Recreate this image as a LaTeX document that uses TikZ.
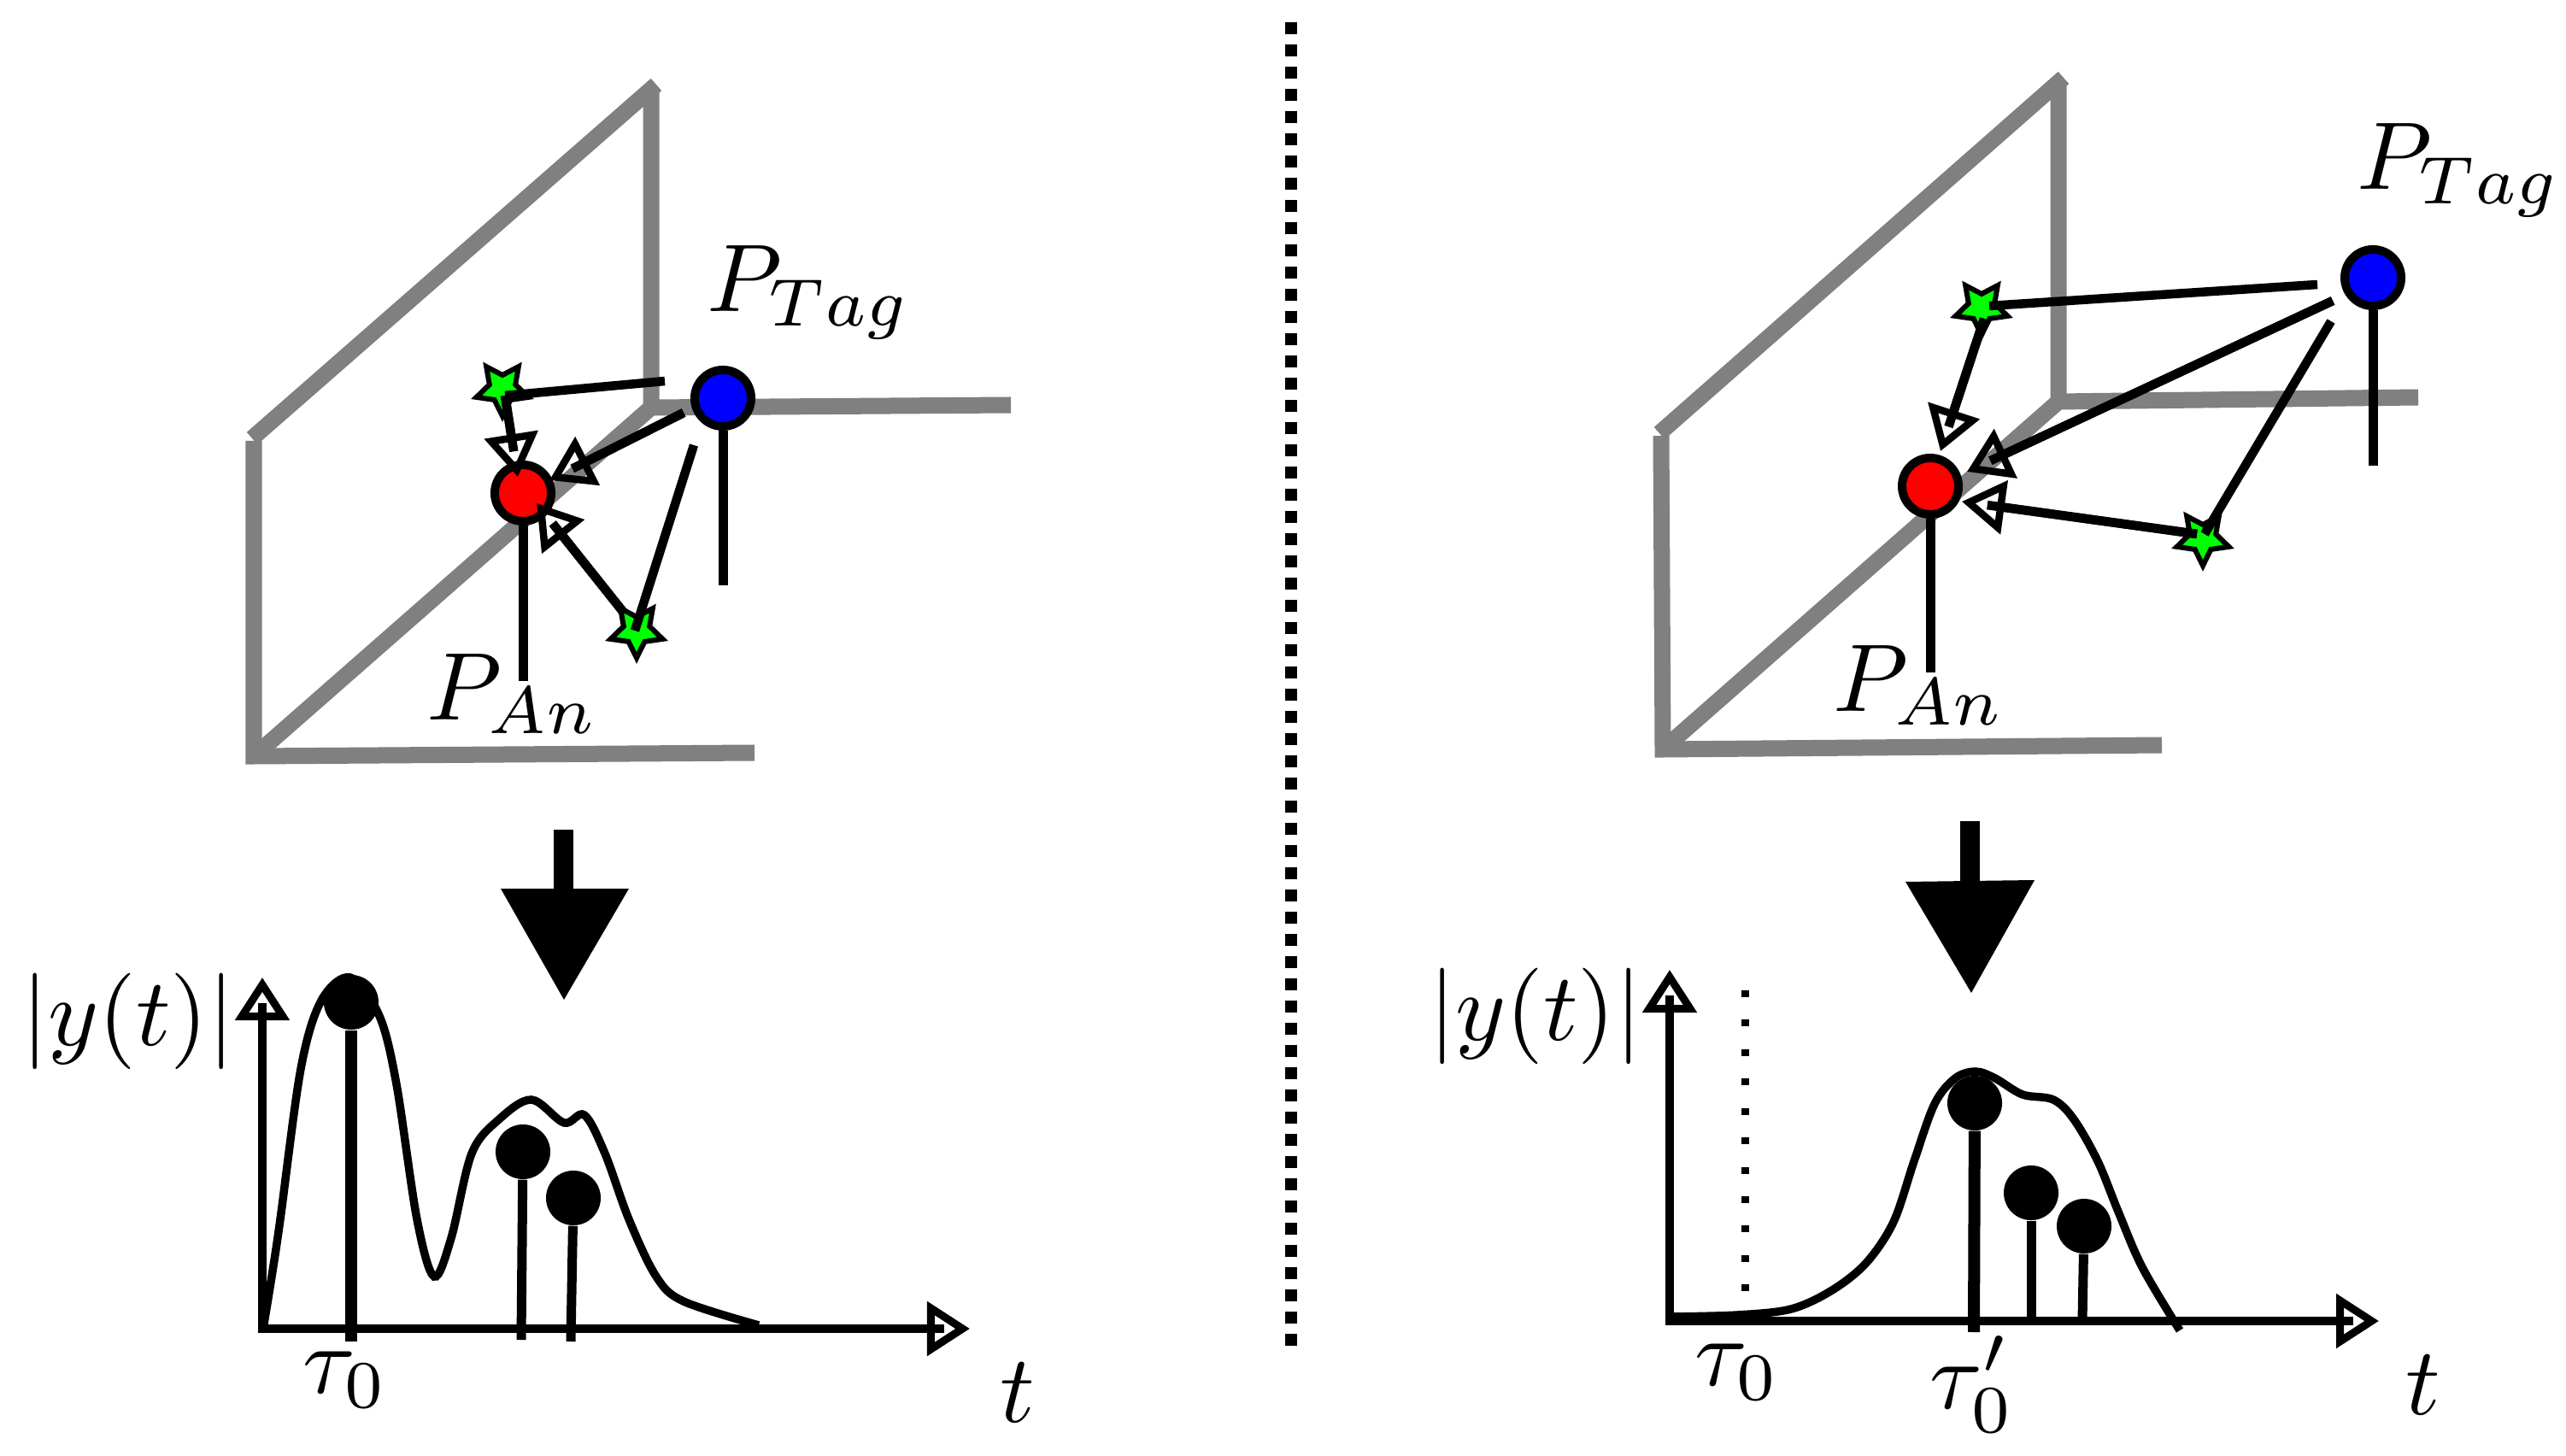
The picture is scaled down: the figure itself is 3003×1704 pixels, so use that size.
\documentclass[tikz,border=0pt]{standalone}
\usetikzlibrary{arrows.meta,shapes.geometric}
\definecolor{wallgray}{HTML}{808080}
\definecolor{tagblue}{HTML}{0000FF}
\definecolor{anred}{HTML}{FF0000}
\definecolor{hitgreen}{HTML}{00FF00}
\tikzset{
  wall/.style={draw=wallgray,line width=0.19cm,line cap=butt,line join=miter},
  antenna/.style={circle,draw=black,line width=0.1cm,inner sep=0pt,minimum size=0.66cm},
  refl/.style={star,star points=5,star point ratio=2.0,shape border rotate=180,draw=black,fill=hitgreen,line width=0.06cm,inner sep=0pt,minimum size=0.64cm},
  ray/.style={line width=0.105cm,line cap=butt},
  openhead/.style={-{Triangle[open,length=0.5cm,width=0.62cm,line width=0.085cm]}},
  stem/.style={line width=0.11cm},
  ball/.style={circle,fill=black,inner sep=0pt,minimum size=0.64cm},
  axis/.style={line width=0.095cm,-{Triangle[open,length=0.5cm,width=0.62cm,line width=0.09cm]}},
  resp/.style={line width=0.095cm,smooth,tension=0.55},
  lab/.style={inner sep=0pt,scale=3.2},
  bigdown/.style={fill=black,draw=none}
}
\newcommand{\openray}[2]{%
  \draw[ray,shorten >=0.3cm] (#1) -- (#2);
  \draw[ray,openhead] (#1) -- (#2);}
\newcommand{\openaxis}[2]{%
  \draw[line width=0.095cm,shorten >=0.3cm] (#1) -- (#2);
  \draw[axis] (#1) -- (#2);}
\begin{document}
\begin{tikzpicture}[x=0.01cm,y=-0.01cm]
\useasboundingbox (0,0) rectangle (3003,1704);
% divider
\coordinate (divA) at (1511,26);
\coordinate (divB) at (1511,1586);
\draw[line width=0.14cm,dash pattern=on 0.14cm off 0.12cm] (divA) -- (divB);

% ---------- LEFT PANEL ----------
\draw[wall] (295,513) -- (768,99);
\draw[wall] (762,105) -- (762,477) -- (1183,474);
\draw[wall] (297,516) -- (297,885) -- (883,881);
\draw[wall] (297,885) -- (762,477);

\node[refl] (ls1) at (588,455) {};
\node[refl] (ls2) at (745,738) {};
\node[antenna,fill=tagblue] (lblue) at (846,466) {};
\node[antenna,fill=anred] (lred) at (612,577) {};
\coordinate (lbs) at (846,685);
\coordinate (lrs) at (612,797);
\draw[stem] (lblue) -- (lbs);
\draw[stem] (lred) -- (lrs);

\coordinate (la1) at (778,446);
\coordinate (la2) at (591,463);
\coordinate (la3) at (606,558);
\coordinate (la4) at (800,483);
\coordinate (la5) at (643,562);
\coordinate (la6) at (812,521);
\coordinate (la7) at (743,738);
\coordinate (la8) at (730,717);
\coordinate (la9) at (628,589);
\draw[ray] (la1) -- (la2);
\openray{la2}{la3}
\openray{la4}{la5}
\draw[ray] (la6) -- (la7);
\openray{la8}{la9}

\node[lab] (lptag) at (947,342) {$P_{Tag}$};
\node[lab] (lpan) at (600,812) {$P_{An}$};

\coordinate (ldA) at (659,971);
\coordinate (ldB) at (659,1045);
\draw[line width=0.23cm] (ldA) -- (ldB);
\fill[bigdown] (586,1040) -- (736,1040) -- (660,1170) -- cycle;

\coordinate (lO) at (307,1555);
\coordinate (lY) at (307,1144);
\coordinate (lX) at (1135,1555);
\draw[line width=0.095cm] (lO) ++(0,5) -- ++(0,-15);
\openaxis{lO}{lY}
\openaxis{lO}{lX}

\draw[resp] plot coordinates {(308,1555)(318,1494)(328,1427)(352,1251)(376,1171)(410,1144)(444,1189)(464,1269)(488,1427)(508,1494)(528,1449)(552,1350)(584,1310)(622,1287)(660,1314)(684,1305)(708,1350)(736,1427)(768,1494)(800,1523)(888,1551)};

\node[ball] (lb1) at (411,1173) {};
\node[ball] (lb2) at (612,1348) {};
\node[ball] (lb3) at (671,1402) {};
\coordinate (lb1s) at (411,1570);
\coordinate (lb2s) at (610,1568);
\coordinate (lb3s) at (668,1570);
\draw[stem,line width=0.14cm] (lb1) -- (lb1s);
\draw[stem] (lb2) -- (lb2s);
\draw[stem] (lb3) -- (lb3s);

\node[lab] (lyt) at (150,1195) {$|y(t)|$};
\node[lab] (ltau) at (404,1615) {$\tau_0$};
\node[lab] (lt) at (1191,1630) {$t$};

% ---------- RIGHT PANEL ----------
\draw[wall] (1942,507) -- (2415,91);
\draw[wall] (2409,97) -- (2409,470) -- (2830,465);
\draw[wall] (1944,510) -- (1946,877) -- (2530,872);
\draw[wall] (1946,877) -- (2409,470);

\node[refl] (rs1) at (2319,360) {};
\node[refl] (rs2) at (2578,630) {};
\node[antenna,fill=tagblue] (rblue) at (2777,325) {};
\node[antenna,fill=anred] (rred) at (2259,569) {};
\coordinate (rbs) at (2777,545);
\coordinate (rrs) at (2259,787);
\draw[stem] (rblue) -- (rbs);
\draw[stem] (rred) -- (rrs);

\coordinate (ra1) at (2712,333);
\coordinate (ra2) at (2328,358);
\coordinate (ra3) at (2322,373);
\coordinate (ra4) at (2271,528);
\coordinate (ra5) at (2730,352);
\coordinate (ra6) at (2302,552);
\coordinate (ra7) at (2728,376);
\coordinate (ra8) at (2580,625);
\coordinate (ra9) at (2571,625);
\coordinate (ra10) at (2296,587);
\draw[ray] (ra1) -- (ra2);
\openray{ra3}{ra4}
\openray{ra5}{ra6}
\draw[ray] (ra7) -- (ra8);
\openray{ra9}{ra10}

\node[lab] (rptag) at (2878,199) {$P_{Tag}$};
\node[lab] (rpan) at (2246,802) {$P_{An}$};

\coordinate (rdA) at (2305,961);
\coordinate (rdB) at (2305,1036);
\draw[line width=0.23cm] (rdA) -- (rdB);
\fill[bigdown] (2230,1032) -- (2381,1030) -- (2307,1162) -- cycle;

\coordinate (rO) at (1954,1546);
\coordinate (rY) at (1954,1135);
\coordinate (rX) at (2784,1546);
\draw[line width=0.095cm] (rO) ++(0,5) -- ++(0,-15);
\openaxis{rO}{rY}
\openaxis{rO}{rX}

\coordinate (rdotA) at (2042,1159);
\coordinate (rdotB) at (2042,1511);
\draw[line width=0.09cm,dash pattern=on 0.08cm off 0.264cm] (rdotA) -- (rdotB);

\draw[resp] plot coordinates {(1954,1541)(2033,1539)(2096,1532)(2144,1510)(2184,1478)(2216,1430)(2240,1359)(2264,1292)(2288,1262)(2312,1254)(2335,1262)(2367,1281)(2403,1287)(2427,1310)(2455,1359)(2479,1418)(2507,1483)(2551,1557)};

\node[ball] (rb1) at (2311,1291) {};
\node[ball] (rb2) at (2377,1396) {};
\node[ball] (rb3) at (2439,1435) {};
\coordinate (rb1s) at (2310,1559);
\coordinate (rb2s) at (2377,1546);
\coordinate (rb3s) at (2437,1546);
\draw[stem,line width=0.14cm] (rb1) -- (rb1s);
\draw[stem] (rb2) -- (rb2s);
\draw[stem] (rb3) -- (rb3s);

\node[lab] (ryt) at (1797,1189) {$|y(t)|$};
\node[lab] (rtau) at (2033,1606) {$\tau_0$};
\node[lab] (rtaup) at (2308,1620) {$\tau_0'$};
\node[lab] (rt) at (2836,1621) {$t$};
\end{tikzpicture}
\end{document}
